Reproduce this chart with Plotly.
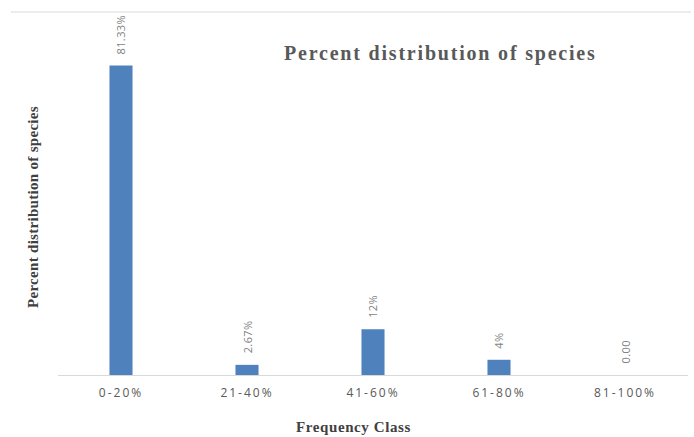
import plotly.graph_objects as go

categories = ["0-20%", "21-40%", "41-60%", "61-80%", "81-100%"]
values = [81.33, 2.67, 12, 4, 0]
value_labels = ["81.33%", "2.67%", "12%", "4%", "0.00"]

W, H = 694, 437
L, R, T, B = 58, 6, 12, 62


def spaced(s, px):
    return f'<span style="letter-spacing:{px}px">{s}</span>'


fig = go.Figure()
fig.add_trace(go.Bar(
    x=categories, y=values,
    marker=dict(color="#4f81bd", line=dict(width=0)),
    hoverinfo="skip",
))

for c, v, lab in zip(categories, values, value_labels):
    fig.add_annotation(
        x=c, y=v, xref="x", yref="y", text=spaced(lab, 0.4), textangle=-90,
        showarrow=False, xanchor="center", yanchor="bottom", yshift=9,
        font=dict(family="Open Sans, sans-serif", size=11, color="#7f7f7f"),
    )

serif = "Liberation Serif, Times New Roman, serif"
fig.add_annotation(
    text="<b>" + spaced("Percent distribution of species", 1.8) + "</b>",
    xref="paper", yref="paper",
    x=(441 - L) / (W - L - R), y=1 - (53 - T) / (H - T - B),
    showarrow=False, xanchor="center", yanchor="middle",
    font=dict(family=serif, size=20, color="#595959"),
)
fig.add_annotation(
    text="<b>" + spaced("Frequency Class", 0.6) + "</b>",
    xref="paper", yref="paper",
    x=(353 - L) / (W - L - R), y=1 - (427 - T) / (H - T - B),
    showarrow=False, xanchor="center", yanchor="middle",
    font=dict(family=serif, size=15, color="#404040"),
)
fig.add_annotation(
    text="<b>" + spaced("Percent distribution of species", 0.3) + "</b>",
    xref="paper", yref="paper",
    x=(33 - L) / (W - L - R), y=1 - (207 - T) / (H - T - B),
    showarrow=False, xanchor="center", yanchor="middle", textangle=-90,
    font=dict(family=serif, size=15, color="#404040"),
)

fig.add_shape(
    type="line", xref="paper", yref="paper",
    x0=(11 - L) / (W - L - R), x1=(691 - L) / (W - L - R), y0=1, y1=1,
    line=dict(color="#d9d9d9", width=1),
)

fig.update_layout(
    width=W, height=H,
    margin=dict(l=L, r=R, t=T, b=B),
    paper_bgcolor="white", plot_bgcolor="white",
    bargap=0.817,
    showlegend=False,
    xaxis=dict(
        showline=True, linecolor="#d9d9d9", linewidth=1,
        showgrid=False, ticks="outside", ticklen=7, tickcolor="rgba(0,0,0,0)",
        tickvals=categories, ticktext=[spaced(c, 2) for c in categories],
        tickfont=dict(family="Open Sans, sans-serif", size=12, color="#595959"),
    ),
    yaxis=dict(
        range=[0, 95.4], showgrid=False, showticklabels=False,
        zeroline=False, showline=False,
    ),
)

fig.write_html("out.html")
